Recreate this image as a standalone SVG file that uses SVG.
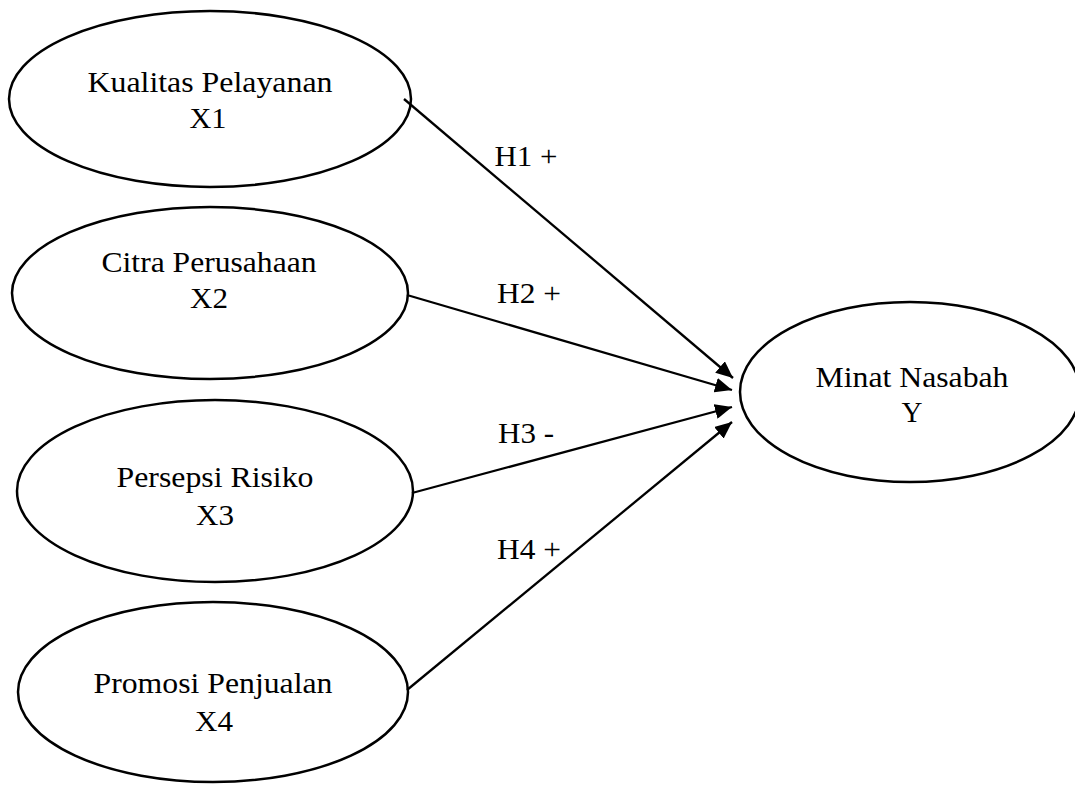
<svg xmlns="http://www.w3.org/2000/svg" width="1075" height="793" viewBox="0 0 1075 793">
<style>
.node ellipse{fill:#fff;stroke:#000;stroke-width:2.5}
text{font-family:"Liberation Serif","Times New Roman",serif;font-size:29px;fill:#000;text-anchor:middle}
.edges line{stroke:#000;stroke-width:2.3}
</style>
<defs>
<marker id="arr" markerUnits="userSpaceOnUse" markerWidth="18" markerHeight="15" refX="17" refY="7.5" orient="auto">
<path d="M0,0 L17,7.5 L0,15 z" fill="#000"/>
</marker>
</defs>
<rect width="1075" height="793" fill="#fff"/>
<g id="X1" class="node">
<ellipse cx="210" cy="99" rx="201" ry="88"/>
<text x="210" y="92" textLength="245" lengthAdjust="spacingAndGlyphs">Kualitas Pelayanan</text>
<text x="208" y="128" textLength="37" lengthAdjust="spacingAndGlyphs">X1</text>
</g>
<g id="X2" class="node">
<ellipse cx="210" cy="293" rx="198" ry="86"/>
<text x="209" y="272" textLength="215" lengthAdjust="spacingAndGlyphs">Citra Perusahaan</text>
<text x="209" y="308" textLength="38" lengthAdjust="spacingAndGlyphs">X2</text>
</g>
<g id="X3" class="node">
<ellipse cx="215" cy="491" rx="198" ry="91"/>
<text x="215" y="487" textLength="197" lengthAdjust="spacingAndGlyphs">Persepsi Risiko</text>
<text x="215" y="525" textLength="38" lengthAdjust="spacingAndGlyphs">X3</text>
</g>
<g id="X4" class="node">
<ellipse cx="213" cy="692" rx="195" ry="90"/>
<text x="213" y="693" textLength="239" lengthAdjust="spacingAndGlyphs">Promosi Penjualan</text>
<text x="214" y="731" textLength="38" lengthAdjust="spacingAndGlyphs">X4</text>
</g>
<g id="Y" class="node">
<ellipse cx="910" cy="392" rx="170" ry="90"/>
<text x="912" y="387" textLength="193" lengthAdjust="spacingAndGlyphs">Minat Nasabah</text>
<text x="912" y="422">Y</text>
</g>
<g id="connectors" class="edges">
<line x1="404" y1="99" x2="733" y2="378" marker-end="url(#arr)"/>
<line x1="407" y1="295" x2="732" y2="390" marker-end="url(#arr)"/>
<line x1="412" y1="493" x2="732" y2="407" marker-end="url(#arr)"/>
<line x1="407" y1="690" x2="732" y2="422" marker-end="url(#arr)"/>
<text x="526" y="166" textLength="63" lengthAdjust="spacingAndGlyphs">H1 +</text>
<text x="529" y="303" textLength="64" lengthAdjust="spacingAndGlyphs">H2 +</text>
<text x="526" y="443" textLength="56" lengthAdjust="spacingAndGlyphs">H3 -</text>
<text x="529" y="559" textLength="64" lengthAdjust="spacingAndGlyphs">H4 +</text>
</g>
</svg>
